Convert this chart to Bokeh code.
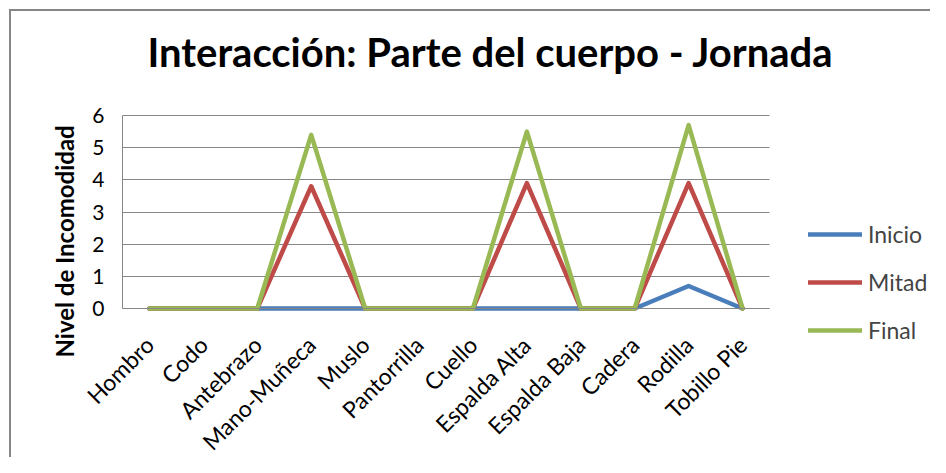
import math
from bokeh.plotting import figure
from bokeh.models import Legend, LegendItem, Title, FixedTicker, Range1d
from bokeh.embed import file_html
from bokeh.resources import INLINE

categories = ["Hombro", "Codo", "Antebrazo", "Mano-Muñeca", "Muslo", "Pantorrilla",
              "Cuello", "Espalda Alta", "Espalda Baja", "Cadera", "Rodilla", "Tobillo Pie"]
inicio = [0, 0, 0, 0, 0, 0, 0, 0, 0, 0, 0.7, 0]
mitad = [0, 0, 0, 3.8, 0, 0, 0, 3.9, 0, 0, 3.9, 0]
final = [0, 0, 0, 5.4, 0, 0, 0, 5.5, 0, 0, 5.7, 0]
series_names = ["Inicio", "Mitad", "Final"]
y_ticks = [0, 1, 2, 3, 4, 5, 6]
title_text = "Interacción: Parte del cuerpo - Jornada"
y_title = "Nivel de Incomodidad"

FONT = "Lato"
GRAY = "#868686"
colors = ["#4A7EBB", "#BE4B48", "#98B954"]

W, H = 930, 457
# data area in px: x -0.5..11.5 -> 122..769, y 0..6 -> 308..115
DL, DR, DT, DB = 122, 769, 115, 308
FL, FR, FT, FB = 80, 930, 98, 450    # frame extended to host legend and all tick labels
n = len(categories)
xu = (DR - DL) / n
yu = (DB - DT) / 6.0
x_start = -0.5 - (DL - FL) / xu
x_end = (n - 0.5) + (FR - DR) / xu
y_start = -(FB - DB) / yu
y_end = 6 + (DT - FT) / yu

xs = list(range(n))
p = figure(width=W, height=H, x_range=Range1d(x_start, x_end),
           y_range=Range1d(y_start, y_end), output_backend="svg", toolbar_location=None,
           min_border_left=FL, min_border_right=W - FR,
           min_border_top=FT, min_border_bottom=H - FB)
p.outline_line_color = None
p.background_fill_color = "white"
p.border_fill_color = None
p.styles = {
    "background-color": "white",
    "background-image": "linear-gradient(%s, %s), linear-gradient(%s, %s)" % (GRAY, GRAY, GRAY, GRAY),
    "background-size": "2px 100%, 100% 2px",
    "background-position": "9px 9px, 9px 9px",
    "background-repeat": "no-repeat",
}

p.title.text = title_text
p.title.align = "left"
p.title.offset = 147 - FL
p.title.standoff = 60 - (DT - FT) + 3
p.title.text_font = FONT
p.title.text_font_style = "bold"
p.title.text_font_size = "40px"
p.title.text_color = "black"

ytitle = Title(text=y_title, align="left", offset=FB - 357, standoff=3,
               text_font=FONT, text_font_style="bold", text_font_size="24px",
               text_color="black")
p.add_layout(ytitle, "left")

p.xgrid.visible = False
p.ygrid.ticker = FixedTicker(ticks=y_ticks)
try:
    p.ygrid.cross_bounds = (-0.5, n - 0.5)
    p.ygrid.grid_line_color = GRAY
except Exception:
    p.ygrid.grid_line_color = None
    p.segment(x0=[-0.5] * len(y_ticks), x1=[n - 0.5] * len(y_ticks), y0=y_ticks, y1=y_ticks,
              line_color=GRAY, line_width=1, level="underlay")

p.yaxis.ticker = FixedTicker(ticks=y_ticks)
p.yaxis.fixed_location = -0.5
p.yaxis.bounds = (0, 6)
p.yaxis.axis_line_color = GRAY
p.yaxis.major_tick_line_color = None
p.yaxis.minor_tick_line_color = None
p.yaxis.major_label_text_font = FONT
p.yaxis.major_label_text_font_size = "21px"
p.yaxis.major_label_text_color = "black"
p.yaxis.major_label_standoff = 12

p.xaxis.ticker = FixedTicker(ticks=xs)
p.xaxis.fixed_location = 0
p.xaxis.bounds = (-0.5, n - 0.5)
p.xaxis.major_label_overrides = {i: c for i, c in enumerate(categories)}
p.xaxis.major_label_orientation = math.pi / 4
p.xaxis.axis_line_color = GRAY
p.xaxis.major_tick_line_color = None
p.xaxis.minor_tick_line_color = None
p.xaxis.major_label_text_font = FONT
p.xaxis.major_label_text_font_size = "23px"
p.xaxis.major_label_text_color = "black"
p.xaxis.major_label_standoff = 26

renderers = []
for name, vals, col in zip(series_names, [inicio, mitad, final], colors):
    r = p.line(xs, vals, line_color=col, line_width=4.5, line_join="round", line_cap="round")
    renderers.append((name, r))

legend = Legend(items=[LegendItem(label=nm, renderers=[r]) for nm, r in renderers],
                location=(808 - FL, FB - 344), orientation="vertical",
                border_line_color=None, background_fill_alpha=0,
                padding=0, margin=0, spacing=20, glyph_width=54, glyph_height=20,
                label_height=20, label_standoff=6,
                label_text_font=FONT, label_text_font_size="23px")
p.add_layout(legend)

open("out.html", "w").write(file_html(p, INLINE))
